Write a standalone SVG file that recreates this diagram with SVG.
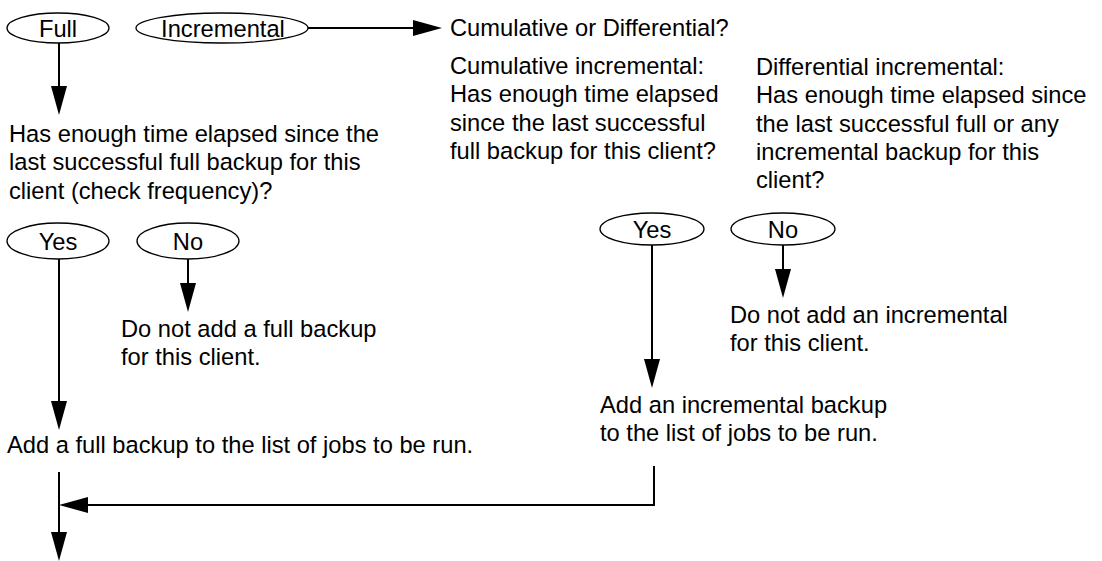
<svg xmlns="http://www.w3.org/2000/svg" width="1102" height="561" viewBox="0 0 1102 561">
<style>
text{font-family:"Liberation Sans",Arial,sans-serif;font-size:23.7px;fill:#000}
.c{text-anchor:middle}
ellipse{fill:#fff;stroke:#000;stroke-width:1.3}
.ln{fill:none;stroke:#000;stroke-width:2}
.ah{fill:#000;stroke:none}
</style>
<rect width="1102" height="561" fill="#fff"/>
<g id="connectors">
<line class="ln" x1="308" y1="28" x2="414" y2="28"/>
<polygon class="ah" points="442,28 413,20 413,36"/>
<line class="ln" x1="59" y1="43" x2="59" y2="88"/>
<polygon class="ah" points="59,115 51,86 67,86"/>
<line class="ln" x1="59" y1="259" x2="59" y2="402"/>
<polygon class="ah" points="59,430 51,401 67,401"/>
<line class="ln" x1="188" y1="259" x2="188" y2="284"/>
<polygon class="ah" points="188,312 180,283 196,283"/>
<line class="ln" x1="652" y1="245" x2="652" y2="360"/>
<polygon class="ah" points="652,388 644,359 660,359"/>
<line class="ln" x1="783" y1="245" x2="783" y2="270"/>
<polygon class="ah" points="783,298 775,269 791,269"/>
<polyline class="ln" points="654,466 654,505 86,505"/>
<polygon class="ah" points="59,505 88,497 88,513"/>
<line class="ln" x1="59" y1="472" x2="59" y2="534"/>
<polygon class="ah" points="59,561 51,532 67,532"/>
</g>
<g id="full">
<ellipse cx="58" cy="28" rx="51" ry="15"/>
<text class="c" x="58" y="36.5">Full</text>
</g>
<g id="incremental">
<ellipse cx="222" cy="28" rx="86" ry="15"/>
<text class="c" x="223" y="36.5">Incremental</text>
</g>
<g id="cumdiff">
<text x="450" y="36">Cumulative or Differential?</text>
</g>
<g id="cumulative">
<text x="450" y="74">Cumulative incremental:</text>
<text x="450" y="102.3">Has enough time elapsed</text>
<text x="450" y="130.6">since the last successful</text>
<text x="450" y="158.9">full backup for this client?</text>
</g>
<g id="differential">
<text x="756" y="75">Differential incremental:</text>
<text x="756" y="103.3">Has enough time elapsed since</text>
<text x="756" y="131.6">the last successful full or any</text>
<text x="756" y="159.9">incremental backup for this</text>
<text x="756" y="188.2">client?</text>
</g>
<g id="full-question">
<text x="9" y="142">Has enough time elapsed since the</text>
<text x="9" y="170.3">last successful full backup for this</text>
<text x="9" y="198.6">client (check frequency)?</text>
</g>
<g id="yes-full">
<ellipse cx="58" cy="241" rx="51" ry="18"/>
<text class="c" x="58" y="249.5">Yes</text>
</g>
<g id="no-full">
<ellipse cx="188" cy="241" rx="51" ry="18"/>
<text class="c" x="188" y="249.5">No</text>
</g>
<g id="no-full-result">
<text x="121" y="337">Do not add a full backup</text>
<text x="121" y="365.3">for this client.</text>
</g>
<g id="add-full">
<text x="7" y="453">Add a full backup to the list of jobs to be run.</text>
</g>
<g id="yes-inc">
<ellipse cx="652" cy="229" rx="52" ry="16"/>
<text class="c" x="652" y="237.5">Yes</text>
</g>
<g id="no-inc">
<ellipse cx="783" cy="229" rx="52" ry="16"/>
<text class="c" x="783" y="237.5">No</text>
</g>
<g id="no-inc-result">
<text x="730" y="323">Do not add an incremental</text>
<text x="730" y="351.3">for this client.</text>
</g>
<g id="add-inc">
<text x="600" y="413">Add an incremental backup</text>
<text x="600" y="441.3">to the list of jobs to be run.</text>
</g>
</svg>
